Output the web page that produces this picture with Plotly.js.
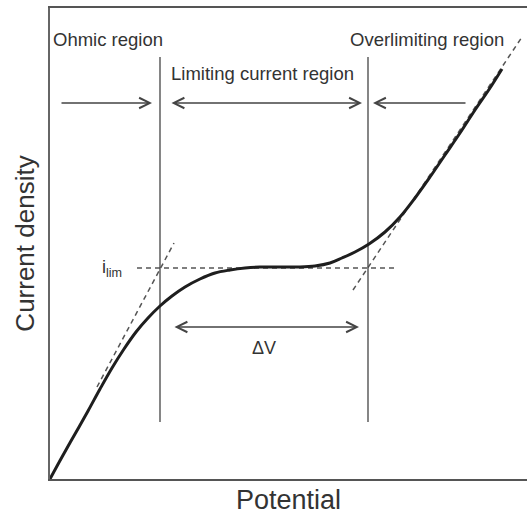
<!DOCTYPE html>
<html>
<head>
<meta charset="utf-8">
<script src="https://cdn.plot.ly/plotly-3.0.1.min.js"></script>
<style>html,body{margin:0;padding:0;background:#fff;}#chart{width:527px;height:515px;}</style>
</head>
<body>
<div id="chart"></div>
<script>
// Polarization curve (arbitrary units)
const potential =      [0, 12, 25, 38, 50, 62, 74, 86, 98, 110, 122, 135, 150, 165, 180, 195, 210, 230, 250, 265, 280, 292, 305, 319, 335, 350, 365, 380, 395, 410, 425, 440, 452];
const currentDensity = [0, 22, 45, 68, 90, 111, 130, 147, 161, 173, 183, 192, 200, 206, 209, 211, 212, 212, 212, 213, 216, 221, 227, 235, 247, 262, 281, 302, 324, 346, 369, 391, 410];

// Tangent / reference dashed lines
const ohmicTangentX = [47, 124];
const ohmicTangentY = [92, 236];
const limitX = [87, 347];
const limitY = [211, 211];
const overTangentX = [303, 472];
const overTangentY = [189, 442];

// Region boundaries
const boundaryX = [110, 318];
const boundaryY = [57, 422];

// Arrows
const regionArrowY = 376;
const arrowTails = [10, 120, 417];
const arrowHeads = [102, 312, 323];
const arrowDouble = [false, true, false];
const deltaVArrow = [123, 309, 152];

// Labels
const labelTexts = ['Ohmic region', 'Limiting current region', 'Overlimiting region', 'i<sub>lim</sub>', 'ΔV'];
const labelX = [58, 212, 377, 62, 214];
const labelY = [440, 406, 440, 211, 131];
const labelSize = [18.5, 18.5, 18.5, 18, 18];

const FONT = 'Liberation Sans, Arial, Helvetica, sans-serif';
const dashStyle = {color: '#555', width: 1.5, dash: '5px,4px'};

const traces = [
  {x: ohmicTangentX, y: ohmicTangentY, mode: 'lines', line: dashStyle, hoverinfo: 'skip'},
  {x: limitX, y: limitY, mode: 'lines', line: dashStyle, hoverinfo: 'skip'},
  {x: overTangentX, y: overTangentY, mode: 'lines', line: dashStyle, hoverinfo: 'skip'},
  {x: [boundaryX[0], boundaryX[0]], y: boundaryY, mode: 'lines', line: {color: '#444', width: 1.3}, hoverinfo: 'skip'},
  {x: [boundaryX[1], boundaryX[1]], y: boundaryY, mode: 'lines', line: {color: '#444', width: 1.3}, hoverinfo: 'skip'},
  {x: potential, y: currentDensity, mode: 'lines', line: {color: '#1e1e1e', width: 3, shape: 'spline', smoothing: 1}, hoverinfo: 'skip'}
];

const annotations = [];
for (let i = 0; i < arrowTails.length; i++) {
  annotations.push({
    x: arrowHeads[i], y: regionArrowY, ax: arrowTails[i], ay: regionArrowY,
    xref: 'x', yref: 'y', axref: 'x', ayref: 'y', text: '', showarrow: true,
    arrowhead: 5, arrowsize: 1.6, arrowwidth: 1.3, arrowcolor: '#444',
    arrowside: arrowDouble[i] ? 'end+start' : 'end',
    startarrowhead: 5, startarrowsize: 1.6
  });
}
annotations.push({
  x: deltaVArrow[1], y: deltaVArrow[2], ax: deltaVArrow[0], ay: deltaVArrow[2],
  xref: 'x', yref: 'y', axref: 'x', ayref: 'y', text: '', showarrow: true,
  arrowhead: 5, arrowsize: 1.6, arrowwidth: 1.3, arrowcolor: '#444',
  arrowside: 'end+start', startarrowhead: 5, startarrowsize: 1.6
});
for (let i = 0; i < labelTexts.length; i++) {
  annotations.push({
    x: labelX[i], y: labelY[i], xref: 'x', yref: 'y', text: labelTexts[i],
    showarrow: false, font: {family: FONT, size: labelSize[i], color: '#333'}
  });
}

const layout = {
  width: 527, height: 515,
  margin: {l: 50, r: 0, t: 8, b: 36},
  paper_bgcolor: '#fff', plot_bgcolor: '#fff',
  showlegend: false,
  font: {family: FONT, color: '#333'},
  xaxis: {
    range: [0, 477], showgrid: false, zeroline: false, showticklabels: false, ticks: '',
    showline: true, linecolor: '#555', linewidth: 2, mirror: true, automargin: false,
    title: {text: 'Potential', font: {family: FONT, size: 27, color: '#333'}, standoff: 16}
  },
  yaxis: {
    range: [0, 471], showgrid: false, zeroline: false, showticklabels: false, ticks: '',
    showline: true, linecolor: '#666', linewidth: 2, automargin: false,
    title: {text: 'Current density', font: {family: FONT, size: 26, color: '#333'}, standoff: 6}
  },
  annotations: annotations
};

Plotly.newPlot('chart', traces, layout, {staticPlot: true, displayModeBar: false});
</script>
</body>
</html>
